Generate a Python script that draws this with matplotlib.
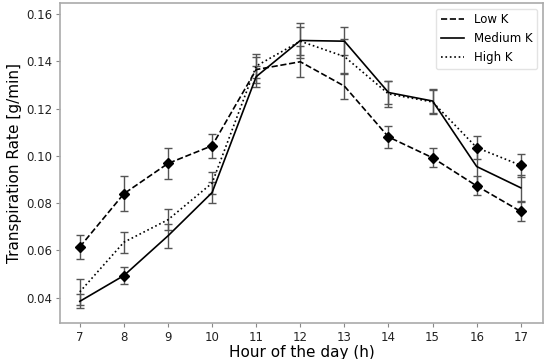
import matplotlib
matplotlib.use("Agg")
import matplotlib.pyplot as plt
import numpy as np

hours = [7, 8, 9, 10, 11, 12, 13, 14, 15, 16, 17]

low_k = [0.0615, 0.0840, 0.0968, 0.1043, 0.1365, 0.1398, 0.1295, 0.1080, 0.0992, 0.0873, 0.0765]
low_k_err = [0.0050, 0.0075, 0.0065, 0.0050, 0.0055, 0.0065, 0.0055, 0.0045, 0.0040, 0.0040, 0.0040]
low_k_sig = [7, 8, 9, 10, 14, 15, 16, 17]

med_k = [0.0385, 0.0494, 0.0662, 0.0845, 0.1335, 0.1488, 0.1485, 0.1268, 0.1232, 0.0955, 0.0865]
med_k_err = [0.0030, 0.0035, 0.0050, 0.0045, 0.0045, 0.0072, 0.0060, 0.0050, 0.0050, 0.0080, 0.0055]
med_k_sig = [8]

high_k = [0.0425, 0.0635, 0.0730, 0.0885, 0.1380, 0.1485, 0.1420, 0.1262, 0.1228, 0.1035, 0.0960]
high_k_err = [0.0055, 0.0045, 0.0045, 0.0045, 0.0050, 0.0060, 0.0075, 0.0055, 0.0050, 0.0050, 0.0050]
high_k_sig = [16, 17]

labels = ["Low K", "Medium K", "High K"]

fig = plt.figure(figsize=(5.5, 3.59), dpi=100)
ax = fig.add_axes([0.109, 0.100, 0.878, 0.892])

series = [(low_k, low_k_err, low_k_sig, "--"),
          (med_k, med_k_err, med_k_sig, "-"),
          (high_k, high_k_err, high_k_sig, ":")]

for (vals, errs, sig, ls), lab in zip(series, labels):
    ax.errorbar(hours, vals, yerr=errs, fmt="none", ecolor="#555555",
                elinewidth=1.0, capsize=3, capthick=1.0, zorder=2)
    ax.plot(hours, vals, linestyle=ls, color="black", linewidth=1.2, label=lab, zorder=3)
    sx = [h for h in hours if h in sig]
    sy = [v for h, v in zip(hours, vals) if h in sig]
    ax.plot(sx, sy, linestyle="none", marker="D", color="black", markersize=5.5, zorder=4)

ax.set_xlim(6.55, 17.5)
ax.set_ylim(0.0293, 0.1647)
ax.set_xticks(hours)
ax.set_yticks([0.04, 0.06, 0.08, 0.10, 0.12, 0.14, 0.16])
ax.yaxis.set_major_formatter(matplotlib.ticker.FormatStrFormatter("%.2f"))
ax.tick_params(labelsize=8.5, color="#888888", length=3, pad=2.5, labelcolor="#222222")
for sp in ax.spines.values():
    sp.set_color("#aaaaaa")
    sp.set_linewidth(1.2)

ax.set_xlabel("Hour of the day (h)", fontsize=11, labelpad=1)
ax.set_ylabel("Transpiration Rate [g/min]", fontsize=11, labelpad=3)
leg = ax.legend(loc="upper right", fontsize=8.5, handlelength=2.0, frameon=True)
leg.get_frame().set_edgecolor("#dddddd")

fig.savefig("out.png", dpi=100)
